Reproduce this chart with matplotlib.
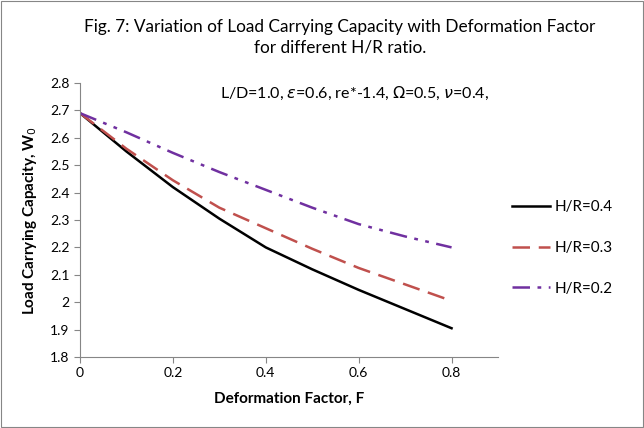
import matplotlib.pyplot as plt
from matplotlib.ticker import FuncFormatter

plt.rcParams['font.family'] = ['Lato', 'DejaVu Sans']

# Load carrying capacity vs deformation factor
F = [0.0, 0.1, 0.2, 0.3, 0.4, 0.5, 0.6, 0.7, 0.8]
w_hr04 = [2.69, 2.55, 2.42, 2.305, 2.20, 2.12, 2.045, 1.975, 1.905]
w_hr03 = [2.69, 2.56, 2.445, 2.345, 2.27, 2.195, 2.125, 2.065, 2.005]
w_hr02 = [2.69, 2.62, 2.545, 2.475, 2.41, 2.345, 2.285, 2.24, 2.20]
labels = ["H/R=0.4", "H/R=0.3", "H/R=0.2"]

fig = plt.figure(figsize=(6.44, 4.28), dpi=100)
ax = fig.add_axes([80 / 644, 1 - 357 / 428, 418 / 644, 274 / 428])

ax.plot(F, w_hr04, color="black", lw=1.8, label=labels[0])
ax.plot(F, w_hr03, color="#C0504D", lw=1.8, dashes=(7, 3.5), label=labels[1])
ax.plot(F, w_hr02, color="#7030A0", lw=1.8, dashes=(7, 3, 1.5, 3, 1.5, 3), label=labels[2])

ax.set_xlim(0, 0.9)
ax.set_ylim(1.8, 2.8)
ax.set_xticks([0, 0.2, 0.4, 0.6, 0.8])
ax.set_yticks([1.8, 1.9, 2.0, 2.1, 2.2, 2.3, 2.4, 2.5, 2.6, 2.7, 2.8])
fmt = FuncFormatter(lambda v, p: ("%g" % round(v, 2)))
ax.xaxis.set_major_formatter(fmt)
ax.yaxis.set_major_formatter(fmt)
ax.tick_params(labelsize=10, color="#868686", length=4, direction="out")

for s in ["top", "right"]:
    ax.spines[s].set_visible(False)
for s in ["left", "bottom"]:
    ax.spines[s].set_color("#868686")

ax.set_xlabel("Deformation Factor, F", fontsize=11, fontweight="bold", labelpad=9)
ax.set_ylabel("Load Carrying Capacity, W$_0$", fontsize=11, fontweight="bold", labelpad=8)

fig.text(0.528, 0.955, "Fig. 7: Variation of Load Carrying Capacity with Deformation Factor\nfor different H/R ratio.",
         ha="center", va="top", fontsize=12.4, linespacing=1.3)
fig.text(220 / 644, 1 - 93 / 428,
         "L/D=1.0, $\\varepsilon$=0.6, re*-1.4, $\\Omega$=0.5, $\\nu$=0.4,",
         ha="left", va="center", fontsize=11.5)

ax.legend(loc="center left", bbox_to_anchor=(1.0, 0.398), frameon=False,
          fontsize=11, handlelength=2.5, handletextpad=0.3, labelspacing=1.75)

fig.patches.append(plt.Rectangle((0.002, 0.002), 0.996, 0.996, transform=fig.transFigure,
                                 fill=False, edgecolor="#868686", lw=0.8))

fig.savefig("out.png", dpi=100)
